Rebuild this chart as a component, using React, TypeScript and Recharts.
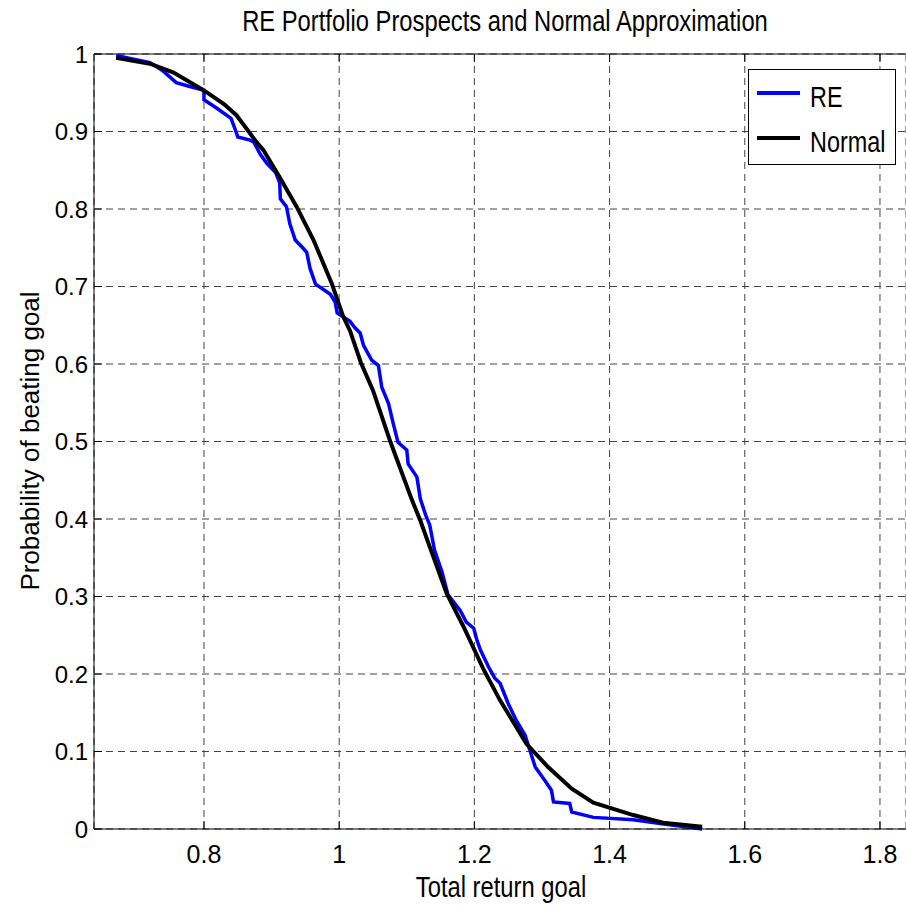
import React from 'react';
import { LineChart, Line, XAxis, YAxis, CartesianGrid, ReferenceLine } from 'recharts';

// ---- data ----
const xTicks = [0.8, 1, 1.2, 1.4, 1.6, 1.8];
const yTicks = [0, 0.1, 0.2, 0.3, 0.4, 0.5, 0.6, 0.7, 0.8, 0.9, 1];

const reX = [
  0.670, 0.720, 0.738, 0.759, 0.779, 0.800, 0.800, 0.819, 0.840, 0.846,
  0.850, 0.868, 0.874, 0.883, 0.893, 0.906, 0.912, 0.913, 0.922, 0.927,
  0.935, 0.945, 0.952, 0.957, 0.965, 0.987, 0.994, 0.997, 1.016, 1.023,
  1.031, 1.036, 1.048, 1.058, 1.063, 1.073, 1.080, 1.087, 1.100, 1.102,
  1.115, 1.120, 1.128, 1.134, 1.141, 1.152, 1.161, 1.179, 1.188, 1.199,
  1.204, 1.209, 1.221, 1.230, 1.238, 1.250, 1.262, 1.275, 1.282, 1.290,
  1.304, 1.314, 1.317, 1.341, 1.344, 1.376, 1.435, 1.475, 1.537,
];
const reY = [
  0.998, 0.989, 0.979, 0.963, 0.958, 0.953, 0.941, 0.930, 0.917, 0.903,
  0.893, 0.889, 0.886, 0.871, 0.859, 0.847, 0.834, 0.813, 0.803, 0.781,
  0.760, 0.751, 0.744, 0.723, 0.703, 0.690, 0.680, 0.666, 0.655, 0.647,
  0.640, 0.624, 0.605, 0.598, 0.570, 0.549, 0.523, 0.499, 0.489, 0.471,
  0.454, 0.426, 0.405, 0.392, 0.360, 0.332, 0.302, 0.282, 0.267, 0.259,
  0.243, 0.231, 0.209, 0.195, 0.188, 0.162, 0.140, 0.121, 0.102, 0.080,
  0.063, 0.050, 0.035, 0.033, 0.022, 0.015, 0.012, 0.007, 0.000,
];

const normalX = [
  0.670, 0.722, 0.755, 0.800, 0.830, 0.848, 0.878, 0.888, 0.912, 0.937,
  0.962, 0.989, 1.006, 1.016, 1.032, 1.050, 1.076, 1.107, 1.120, 1.134,
  1.159, 1.184, 1.213, 1.238, 1.277, 1.309, 1.344, 1.376, 1.435, 1.479,
  1.537,
];
const normalY = [
  0.995, 0.987, 0.976, 0.953, 0.935, 0.921, 0.886, 0.876, 0.841, 0.803,
  0.760, 0.704, 0.661, 0.643, 0.602, 0.566, 0.499, 0.426, 0.398, 0.364,
  0.304, 0.261, 0.207, 0.166, 0.110, 0.080, 0.052, 0.034, 0.018, 0.008,
  0.003,
];

const seriesNames = ['RE', 'Normal'];
const seriesColors = ['#0000FF', '#000000'];

const reData = reX.map((x, i) => ({ x, y: reY[i] }));
const normalData = normalX.map((x, i) => ({ x, y: normalY[i] }));
const seriesData = [reData, normalData];

// ---- layout ----
const W = 906;
const H = 907;
const PLOT_TOP = 54;
const FONT = '"Liberation Sans", Arial, Helvetica, sans-serif';

const XTick = (props: any) => {
  const { x, y, payload } = props;
  return (
    <g>
      <line x1={x} y1={y} x2={x} y2={y - 8} stroke="#000" strokeWidth={1} />
      <line x1={x} y1={PLOT_TOP} x2={x} y2={PLOT_TOP + 8} stroke="#000" strokeWidth={1} />
      <text x={x} y={y + 34} textAnchor="middle" fontSize={25} fontFamily={FONT} fill="#000">
        {String(payload.value)}
      </text>
    </g>
  );
};

const YTick = (props: any) => {
  const { x, y, payload } = props;
  return (
    <g>
      <line x1={x} y1={y} x2={x + 8} y2={y} stroke="#000" strokeWidth={1} />
      <text x={x - 6} y={y} textAnchor="end" dominantBaseline="central" fontSize={24} fontFamily={FONT} fill="#000">
        {String(payload.value)}
      </text>
    </g>
  );
};

export default function App() {
  const lx = 748;
  const ly = 69;
  return (
    <div style={{ position: 'absolute', left: 0, top: 0, width: W, height: H, overflow: 'hidden', background: '#fff' }}>
      <LineChart width={W} height={H} margin={{ top: PLOT_TOP, right: 0, left: 0, bottom: 0 }}>
        <CartesianGrid stroke="#444" strokeDasharray="7 5" />
        <XAxis
          dataKey="x"
          type="number"
          domain={[0.6373, 1.8385]}
          allowDataOverflow
          ticks={xTicks}
          height={78}
          tickSize={0}
          tickMargin={0}
          tickLine={false}
          axisLine={{ stroke: '#000', strokeWidth: 1 }}
          tick={<XTick />}
          interval={0}
        />
        <YAxis
          type="number"
          domain={[0, 1]}
          ticks={yTicks}
          width={94}
          tickSize={0}
          tickMargin={0}
          tickLine={false}
          axisLine={{ stroke: '#000', strokeWidth: 1 }}
          tick={<YTick />}
          interval={0}
        />
        <ReferenceLine y={1} stroke="#000" strokeWidth={1} />
        {seriesData.map((d, i) => (
          <Line
            key={seriesNames[i]}
            data={d}
            dataKey="y"
            name={seriesNames[i]}
            type="linear"
            stroke={seriesColors[i]}
            strokeWidth={i === 0 ? 3.5 : 4}
            dot={false}
            isAnimationActive={false}
          />
        ))}
      </LineChart>
      <svg width={W} height={H} style={{ position: 'absolute', left: 0, top: 0, pointerEvents: 'none' }}>
        <text transform="translate(505, 31) scale(0.82, 1)" textAnchor="middle" fontSize={29} fontFamily={FONT} fill="#000">
          RE Portfolio Prospects and Normal Approximation
        </text>
        <text transform="translate(501, 897) scale(0.82, 1)" textAnchor="middle" fontSize={29} fontFamily={FONT} fill="#000">
          Total return goal
        </text>
        <text transform="translate(30, 441) rotate(-90)" textAnchor="middle" dominantBaseline="central" fontSize={26} fontFamily={FONT} fill="#000">
          Probability of beating goal
        </text>
        <g transform={`translate(${lx}, ${ly})`}>
          <rect x={0.5} y={0.5} width={147} height={95} fill="#fff" stroke="#000" strokeWidth={1} />
          {seriesNames.map((name, i) => {
            const cy = i === 0 ? 24 : 69;
            return (
              <g key={name}>
                <line x1={9} y1={cy} x2={52} y2={cy} stroke={seriesColors[i]} strokeWidth={4} />
                <text transform={`translate(62, ${cy + 14}) scale(0.78, 1)`} fontSize={30} fontFamily={FONT} fill="#000">
                  {name}
                </text>
              </g>
            );
          })}
        </g>
      </svg>
    </div>
  );
}
